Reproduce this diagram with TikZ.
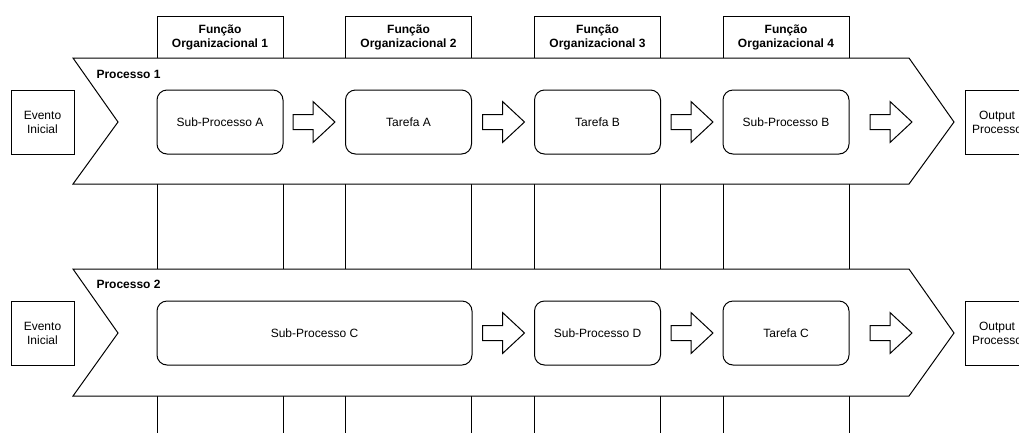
\documentclass[tikz,border=0pt]{standalone}
\usepackage{fontspec}
\setmainfont{Liberation Sans}
\begin{document}
\begin{tikzpicture}[x=1pt,y=-1pt,line width=1pt,
  every node/.style={font=\fontsize{12}{14}\selectfont, inner sep=0pt},
  column/.style={draw, fill=white, minimum width=126pt, minimum height=430pt, anchor=north},
  headtext/.style={font=\fontsize{12}{14}\selectfont\bfseries, align=center},
  chevron/.style={draw, fill=white, line join=miter},
  task/.style={draw, fill=white, rounded corners=10pt, minimum width=126pt, minimum height=64pt, align=center},
  eventbox/.style={draw, fill=white, minimum width=63pt, minimum height=64pt, align=center},
  proclabel/.style={font=\fontsize{12}{14}\selectfont\bfseries, anchor=west},
  barrow/.pic={\draw[fill=white, line join=miter] (-21,-7.5) -- (-1,-7.5) -- (-1,-20.5) -- (21,0) -- (-1,20.5) -- (-1,7.5) -- (-21,7.5) -- cycle;}]
\useasboundingbox (0,0) rectangle (1019,432);
\clip (0,0) rectangle (1019,432);

% organisational function columns with their headers
\node[column] (c1) at (220,16) {};
\node[column] (c2) at (408.5,16) {};
\node[column] (c3) at (597.5,16) {};
\node[column] (c4) at (786,16) {};
\node[headtext] (h1) at (220,37) {Função\\Organizacional 1};
\node[headtext] (h2) at (408.5,37) {Função\\Organizacional 2};
\node[headtext] (h3) at (597.5,37) {Função\\Organizacional 3};
\node[headtext] (h4) at (786,37) {Função\\Organizacional 4};

% process chevrons
\draw[chevron] (73,58) -- (909,58) -- (954,122) -- (909,184) -- (73,184) -- (118,122) -- cycle;
\draw[chevron] (73,269) -- (909,269) -- (954,333) -- (909,396) -- (73,396) -- (118,333) -- cycle;
\node[proclabel] (p1) at (96,74) {Processo 1};
\node[proclabel] (p2) at (96,284) {Processo 2};

% process 1
\node[eventbox] (e1) at (42.5,122) {Evento\\Inicial};
\node[task] (t1) at (220,122) {Sub-Processo A};
\node[task] (t2) at (408.5,122) {Tarefa A};
\node[task] (t3) at (597.5,122) {Tarefa B};
\node[task] (t4) at (786,122) {Sub-Processo B};
\node[eventbox] (o1) at (997,122) {Output\\Processo};
\pic at (314,122) {barrow};
\pic at (503.5,122) {barrow};
\pic at (692,122) {barrow};
\pic at (891,122) {barrow};

% process 2
\node[eventbox] (e2) at (42.5,333) {Evento\\Inicial};
\node[task, minimum width=315pt] (t5) at (314.5,333) {Sub-Processo C};
\node[task] (t6) at (597.5,333) {Sub-Processo D};
\node[task] (t7) at (786,333) {Tarefa C};
\node[eventbox] (o2) at (997,333) {Output\\Processo};
\pic at (503.5,333) {barrow};
\pic at (692,333) {barrow};
\pic at (891,333) {barrow};
\end{tikzpicture}
\end{document}
